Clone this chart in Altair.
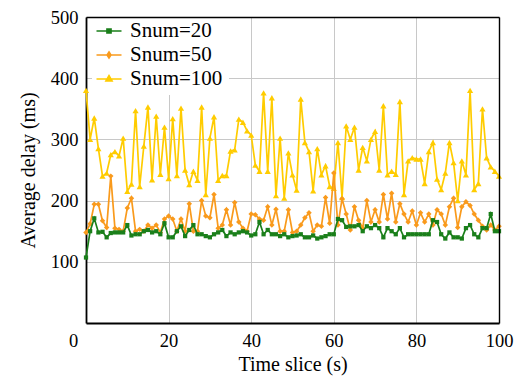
import altair as alt
import pandas as pd

t = list(range(101))

snum20 = [107, 150, 171, 148, 149, 140, 147, 148, 148, 148,
          160, 143, 145, 145, 150, 152, 148, 150, 145, 163,
          140, 140, 150, 158, 142, 152, 160, 145, 145, 142,
          140, 145, 148, 152, 142, 148, 145, 148, 150, 148,
          143, 145, 165, 145, 152, 145, 145, 142, 145, 140,
          142, 143, 145, 140, 140, 143, 138, 140, 142, 145,
          145, 170, 168, 157, 158, 158, 160, 150, 158, 155,
          160, 155, 140, 155, 150, 145, 155, 140, 145, 145,
          145, 145, 145, 145, 168, 165, 145, 138, 148, 140,
          140, 138, 155, 160, 145, 140, 155, 155, 178, 150,
          150]

snum50 = [148, 162, 194, 194, 167, 156, 240, 155, 153, 150,
          188, 204, 150, 153, 150, 160, 155, 160, 148, 170,
          175, 170, 150, 170, 150, 195, 150, 150, 200, 175,
          172, 210, 155, 160, 185, 160, 197, 165, 155, 150,
          178, 177, 170, 168, 190, 160, 186, 150, 150, 185,
          148, 150, 160, 172, 180, 150, 160, 158, 205, 163,
          245, 160, 203, 178, 152, 190, 168, 155, 200, 165,
          185, 165, 210, 170, 212, 165, 195, 178, 165, 183,
          160, 180, 165, 178, 160, 185, 178, 160, 190, 204,
          156, 190, 198, 192, 178, 168, 158, 152, 160, 152,
          158]

snum100 = [380, 300, 335, 285, 240, 245, 275, 280, 273, 302,
           215, 227, 347, 223, 289, 353, 234, 338, 243, 320,
           236, 334, 241, 351, 250, 226, 248, 233, 353, 210,
           302, 337, 233, 241, 241, 281, 283, 333, 328, 314,
           307, 258, 248, 376, 248, 368, 208, 302, 204, 278,
           242, 217, 366, 295, 280, 216, 285, 242, 257, 223,
           220, 295, 205, 322, 300, 320, 250, 287, 265, 300,
           313, 250, 355, 242, 248, 243, 362, 210, 265, 270,
           268, 268, 228, 280, 295, 235, 218, 245, 295, 262,
           200, 265, 242, 380, 218, 228, 350, 270, 255, 248,
           240]

series = ["Snum=20", "Snum=50", "Snum=100"]
colors = ["#1a7f1a", "#f99a1c", "#ffcc00"]
shapes = ["square", "diamond", "triangle-up"]
sizes = [18, 30, 38]
legend_shapes = [
    "M-1.25,0L1.25,0M-0.2,-0.2L0.2,-0.2L0.2,0.2L-0.2,0.2Z",
    "M-1.25,0L1.25,0M0,-0.3L0.19,0L0,0.3L-0.19,0Z",
    "M-1.25,0L1.25,0M0,-0.33L0.3,0.2L-0.3,0.2Z",
]
x_ticks = [0, 20, 40, 60, 80, 100]
y_ticks = [100, 200, 300, 400, 500]

rows = []
for name, vals in zip(series, [snum20, snum50, snum100]):
    for ti, v in zip(t, vals):
        rows.append({"t": ti, "delay": v, "series": name})
df = pd.DataFrame(rows)

FONT = "Liberation Serif"
LBL = 18.5

xs = alt.Scale(domain=[0, 100], nice=False, zero=False)
ys = alt.Scale(domain=[0, 500], nice=False)

x_main = alt.X("t:Q", scale=xs, axis=alt.Axis(
    values=x_ticks, title="Time slice (s)", ticks=False, tickSize=0,
    labelFont=FONT, titleFont=FONT, labelFontSize=LBL, titleFontSize=20,
    labelPadding=8, titlePadding=5, gridColor="#c8c8c8", gridWidth=1,
    domainColor="black", domainWidth=1.8, labelFlush=False,
    labelOffset={"condition": {"test": "datum.value === 0", "value": -13}, "value": 0},
))
y_main = alt.Y("delay:Q", scale=ys, axis=alt.Axis(
    values=y_ticks, title="Average delay (ms)", ticks=False, tickSize=0,
    labelFont=FONT, titleFont=FONT, labelFontSize=LBL, titleFontSize=20,
    labelPadding=8, titlePadding=12, gridColor="#c8c8c8", gridWidth=1,
    domainColor="black", domainWidth=1.8, labelFlush=False,
))
x_top = alt.X("t:Q", scale=xs, axis=alt.Axis(
    orient="top", labels=False, ticks=False, grid=False, title=None,
    domainColor="black", domainWidth=1.4, zindex=1,
))
y_right = alt.Y("delay:Q", scale=ys, axis=alt.Axis(
    orient="right", labels=False, ticks=False, grid=False, title=None,
    domainColor="black", domainWidth=1.4, zindex=1,
))
x_none = alt.X("t:Q", scale=xs, axis=None)
y_none = alt.Y("delay:Q", scale=ys, axis=None)

layers = []
first = True
for i in [2, 1, 0]:
    base = alt.Chart(df).transform_filter(alt.datum.series == series[i])
    xe, ye = (x_main, y_main) if first else (x_none, y_none)
    first = False
    layers.append(base.mark_line(color=colors[i], strokeWidth=1.7).encode(x=xe, y=ye))
    layers.append(
        base.mark_point(shape=shapes[i], filled=True, color=colors[i], size=sizes[i], opacity=1)
        .encode(x=x_none, y=y_none)
    )

leg = alt.Legend(
    title=None, orient="none", legendX=6, legendY=-3, padding=6,
    fillColor="white", symbolSize=400, symbolStrokeWidth=1.7,
    labelFont=FONT, labelFontSize=21, labelColor="black", labelOffset=10,
    rowPadding=3,
)
legend_layer = (
    alt.Chart(df)
    .transform_filter("false")
    .mark_point(filled=True, opacity=1, strokeWidth=1.7)
    .encode(
        x=x_top, y=y_right,
        fill=alt.Fill("series:N", scale=alt.Scale(domain=series, range=colors), legend=leg),
        stroke=alt.Stroke("series:N", scale=alt.Scale(domain=series, range=colors), legend=leg),
        shape=alt.Shape("series:N", scale=alt.Scale(domain=series, range=legend_shapes), legend=leg),
    )
)
layers.append(legend_layer)

chart = (
    alt.layer(*layers)
    .resolve_axis(x="independent", y="independent")
    .properties(
        width=413, height=306,
        autosize=alt.AutoSizeParams(type="none"),
        padding={"left": 78, "top": 9, "right": 17, "bottom": 54},
    )
    .configure(font=FONT)
    .configure_view(strokeWidth=0)
    .configure_axis(labelColor="black", titleColor="black", titleFontWeight="normal")
)

chart.save("out.html", embed_options={"renderer": "svg", "actions": False})
